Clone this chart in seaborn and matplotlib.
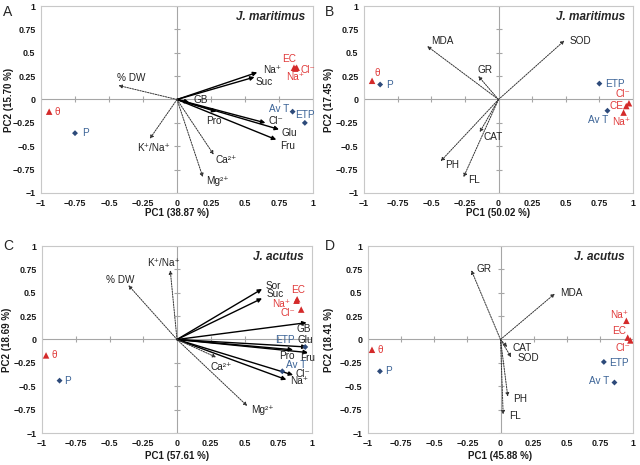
# PCA biplots (4 panels) - J. maritimus / J. acutus
import numpy as np
import pandas as pd
import matplotlib
matplotlib.use("Agg")
import matplotlib.pyplot as plt
import matplotlib.ticker as mticker
import seaborn as sns

# ---------------- data ----------------
# Panel A - J. maritimus, osmolytes / ions
a_vec_names = ['Na⁺', 'Suc', 'GB', 'Pro', 'Cl⁻', 'Glu', 'Fru', '% DW', 'K⁺/Na⁺', 'Ca²⁺', 'Mg²⁺']
a_vec_pc1 = [0.59, 0.57, 0.09, 0.29, 0.65, 0.75, 0.73, -0.43, -0.20, 0.27, 0.19]
a_vec_pc2 = [0.29, 0.24, -0.03, -0.13, -0.25, -0.32, -0.43, 0.15, -0.42, -0.59, -0.83]
a_vec_solid = [True, True, True, True, True, True, True, False, False, False, False]
a_pt_names = ['θ', 'P', 'EC', 'Cl⁻', 'Na⁺', 'Av T', 'ETP']
a_pt_pc1 = [-0.94, -0.75, 0.86, 0.88, 0.87, 0.85, 0.94]
a_pt_pc2 = [-0.13, -0.36, 0.34, 0.34, 0.33, -0.13, -0.25]
a_pt_group = ['soil', 'climate', 'soil', 'soil', 'soil', 'climate', 'climate']

# Panel B - J. maritimus, growth / antioxidants
b_vec_names = ['MDA', 'SOD', 'GR', 'CAT', 'PH', 'FL']
b_vec_pc1 = [-0.53, 0.49, -0.15, -0.14, -0.43, -0.26]
b_vec_pc2 = [0.57, 0.63, 0.25, -0.35, -0.66, -0.83]
b_vec_solid = [False] * 6
b_pt_names = ['θ', 'P', 'ETP', 'Av T', 'Cl⁻', 'CE', 'Na⁺']
b_pt_pc1 = [-0.94, -0.88, 0.75, 0.81, 0.97, 0.95, 0.93]
b_pt_pc2 = [0.20, 0.16, 0.17, -0.12, -0.04, -0.07, -0.14]
b_pt_group = ['soil', 'climate', 'climate', 'climate', 'soil', 'soil', 'soil']

# Panel C - J. acutus, osmolytes / ions
c_vec_names = ['Sor', 'Suc', 'GB', 'Glu', 'Fru', 'Pro', 'Cl⁻', 'Na⁺', 'K⁺/Na⁺', '% DW', 'Ca²⁺', 'Mg²⁺']
c_vec_pc1 = [0.63, 0.63, 0.96, 0.96, 0.97, 0.86, 0.86, 0.81, -0.05, -0.36, 0.29, 0.52]
c_vec_pc2 = [0.54, 0.44, 0.18, -0.08, -0.14, -0.11, -0.38, -0.43, 0.74, 0.58, -0.19, -0.71]
c_vec_solid = [True] * 8 + [False] * 4
c_pt_names = ['θ', 'P', 'EC', 'Na⁺', 'Cl⁻', 'ETP', 'Av T']
c_pt_pc1 = [-0.97, -0.87, 0.89, 0.885, 0.92, 0.95, 0.78]
c_pt_pc2 = [-0.17, -0.44, 0.43, 0.415, 0.32, -0.08, -0.34]
c_pt_group = ['soil', 'climate', 'soil', 'soil', 'soil', 'climate', 'climate']

# Panel D - J. acutus, growth / antioxidants
d_vec_names = ['GR', 'MDA', 'CAT', 'SOD', 'PH', 'FL']
d_vec_pc1 = [-0.22, 0.41, 0.05, 0.08, 0.055, 0.02]
d_vec_pc2 = [0.74, 0.49, -0.08, -0.19, -0.61, -0.80]
d_vec_solid = [False] * 6
d_pt_names = ['θ', 'P', 'Na⁺', 'EC', 'Cl⁻', 'ETP', 'Av T']
d_pt_pc1 = [-0.97, -0.91, 0.95, 0.96, 0.98, 0.78, 0.86]
d_pt_pc2 = [-0.11, -0.34, 0.20, 0.02, -0.01, -0.24, -0.46]
d_pt_group = ['soil', 'climate', 'soil', 'soil', 'soil', 'climate', 'climate']

pc1_labels = ['PC1 (38.87 %)', 'PC1 (50.02 %)', 'PC1 (57.61 %)', 'PC1 (45.88 %)']
pc2_labels = ['PC2 (15.70 %)', 'PC2 (17.45 %)', 'PC2 (18.69 %)', 'PC2 (18.41 %)']
species = ['J. maritimus', 'J. maritimus', 'J. acutus', 'J. acutus']
panel_letters = ['A', 'B', 'C', 'D']
ticks = [-1, -0.75, -0.5, -0.25, 0, 0.25, 0.5, 0.75, 1]

# label placement (offset points dx, dy, ha) - layout only
a_vec_off = [(4.5, 1.5, 'left'), (1, -3.5, 'left'), (3, 1.5, 'left'), (-2, -7, 'center'), (2.5, 1, 'left'),
             (2, -2.5, 'left'), (2.5, -4.5, 'left'), (-1, 5.5, 'left'), (3, -7, 'center'), (1, -4, 'left'), (2.5, -2.5, 'left')]
a_pt_off = [(4, 0, 'left'), (5, 0, 'left'), (-3.5, 6, 'center'), (3, -1.5, 'left'), (0, -6, 'center'),
            (-2.5, 2, 'right'), (0, 5.5, 'center')]
b_vec_off = [(3, 4, 'left'), (3.5, 0, 'left'), (-0.5, 4.5, 'left'), (3, -3.5, 'left'), (3.5, -2.5, 'left'), (3, -2, 'left')]
b_pt_off = [(4, 5.5, 'center'), (4, -0.5, 'left'), (4, 0, 'left'), (-6.5, -6.5, 'center'), (-4.5, 6.5, 'center'),
            (-2, 0, 'right'), (-1.5, -6.5, 'center')]
c_vec_off = [(2.5, 2.5, 'left'), (3, 3, 'left'), (-2.4, -4.8, 'center'), (-6.9, 4.9, 'left'), (-5.7, -3.9, 'left'),
             (-10, -4.6, 'left'), (1.4, 0.7, 'left'), (2.6, -0.8, 'left'), (-5, 5, 'center'), (-6, 4, 'center'),
             (3.5, -7, 'center'), (2.5, -3, 'left')]
c_pt_off = [(4, 0, 'left'), (3, 0, 'left'), (1, 6.5, 'center'), (-4.7, -2.4, 'right'), (-4.1, -2.4, 'right'),
            (-7.2, 5.3, 'right'), (2.4, 4.3, 'left')]
d_vec_off = [(3.5, 1, 'left'), (3.5, 0.5, 'left'), (4, -0.5, 'left'), (4.5, -0.5, 'left'), (4, -1.5, 'left'), (4, -1.5, 'left')]
d_pt_off = [(4, 0, 'left'), (4, 0, 'left'), (-5, 4.5, 'center'), (-6.5, 5, 'center'), (-5.5, -5.5, 'center'),
            (4, -0.5, 'left'), (-4, 1, 'right')]

panels = [
    (a_vec_names, a_vec_pc1, a_vec_pc2, a_vec_solid, a_vec_off, a_pt_names, a_pt_pc1, a_pt_pc2, a_pt_group, a_pt_off),
    (b_vec_names, b_vec_pc1, b_vec_pc2, b_vec_solid, b_vec_off, b_pt_names, b_pt_pc1, b_pt_pc2, b_pt_group, b_pt_off),
    (c_vec_names, c_vec_pc1, c_vec_pc2, c_vec_solid, c_vec_off, c_pt_names, c_pt_pc1, c_pt_pc2, c_pt_group, c_pt_off),
    (d_vec_names, d_vec_pc1, d_vec_pc2, d_vec_solid, d_vec_off, d_pt_names, d_pt_pc1, d_pt_pc2, d_pt_group, d_pt_off),
]

# ---------------- style ----------------
sns.set_style("white")
plt.rcParams['font.family'] = ['Liberation Sans', 'DejaVu Sans']

RED = '#d42a2a'
BLUE = '#2d4a7a'
TXT_COLOR = {'soil': '#e03a3a', 'climate': '#3b6396'}
GRAY = '#a6a6a6'

fig = plt.figure(figsize=(6.4, 4.65), dpi=100)
positions = [
    [41 / 640, 1 - 193 / 465, 272 / 640, 187 / 465],
    [364 / 640, 1 - 193 / 465, 269 / 640, 187 / 465],
    [42 / 640, 1 - 433 / 465, 270 / 640, 187 / 465],
    [368 / 640, 1 - 433 / 465, 265 / 640, 187 / 465],
]
ylabel_x = [-0.099, -0.112, -0.111, -0.128]
xlabel_y = [-0.08, -0.08, -0.096, -0.096]
letter_pos = [(3, 12), (325, 12), (3, 246), (325, 246)]


def draw_panel(ax, vn, vx, vy, vs, voff, pn, px, py, pg, poff):
    ax.set_xlim(-1, 1)
    ax.set_ylim(-1, 1)

    # zero axes with small cross ticks
    ax.axhline(0, color=GRAY, lw=0.8, zorder=1)
    ax.axvline(0, color=GRAY, lw=0.8, zorder=1)
    tk = [t for t in ticks if t != 0]
    ax.plot(tk, [0] * len(tk), ls='none', marker='|', ms=5, mew=0.8, color=GRAY, zorder=1)
    ax.plot([0] * len(tk), tk, ls='none', marker='_', ms=5, mew=0.8, color=GRAY, zorder=1)

    # loading vectors
    for name, x, y, solid, (dx, dy, ha) in zip(vn, vx, vy, vs, voff):
        if solid:
            props = dict(arrowstyle='-|>', color='black', lw=1.0, mutation_scale=6, shrinkA=0, shrinkB=0)
        else:
            props = dict(arrowstyle='-|>', color='#333333', lw=0.7, linestyle=(0, (1.5, 1.2)),
                         mutation_scale=5, shrinkA=0, shrinkB=0)
        ax.annotate('', xy=(x, y), xytext=(0, 0), arrowprops=props, zorder=2)
        ax.annotate(name, xy=(x, y), xytext=(dx, dy), textcoords='offset points',
                    ha=ha, va='center', fontsize=7.2, color='#222222', zorder=4)

    # environmental variables as points
    pts = pd.DataFrame({'pc1': px, 'pc2': py, 'grp': pg})
    sns.scatterplot(data=pts[pts.grp == 'soil'], x='pc1', y='pc2', marker='^', color=RED,
                    s=22, edgecolor='none', legend=False, ax=ax, zorder=3)
    sns.scatterplot(data=pts[pts.grp == 'climate'], x='pc1', y='pc2', marker='D', color=BLUE,
                    s=9, edgecolor='none', legend=False, ax=ax, zorder=3)
    for name, x, y, g, (dx, dy, ha) in zip(pn, px, py, pg, poff):
        ax.annotate(name, xy=(x, y), xytext=(dx, dy), textcoords='offset points',
                    ha=ha, va='center', fontsize=7.2, color=TXT_COLOR[g], zorder=4)

    ax.set_xticks(ticks)
    ax.set_yticks(ticks)
    fmt = mticker.FuncFormatter(lambda v, _: f"{v:g}".replace('-', '\u2212'))
    ax.xaxis.set_major_formatter(fmt)
    ax.yaxis.set_major_formatter(fmt)
    ax.tick_params(length=0, labelsize=6.4, pad=4, colors='#1a1a1a')
    for lab in ax.get_xticklabels() + ax.get_yticklabels():
        lab.set_fontweight('bold')
    for sp in ax.spines.values():
        sp.set_color('#c8c8c8')
        sp.set_linewidth(0.8)


for i, (ax_pos, data) in enumerate(zip(positions, panels)):
    ax = fig.add_axes(ax_pos)
    draw_panel(ax, *data)
    ax.set_xlabel(pc1_labels[i], fontsize=7, fontweight='bold', color='#1a1a1a')
    ax.set_ylabel(pc2_labels[i], fontsize=7, fontweight='bold', color='#1a1a1a')
    ax.xaxis.set_label_coords(0.5, xlabel_y[i])
    ax.yaxis.set_label_coords(ylabel_x[i], 0.5)
    ax.text(0.97, 0.94, species[i], transform=ax.transAxes, ha='right', va='center',
            fontsize=8.5, fontweight='bold', style='italic')
    lx, ly = letter_pos[i]
    fig.text(lx / 640, 1 - ly / 465, panel_letters[i], ha='left', va='center', fontsize=10)

fig.savefig("out.png", dpi=100)
